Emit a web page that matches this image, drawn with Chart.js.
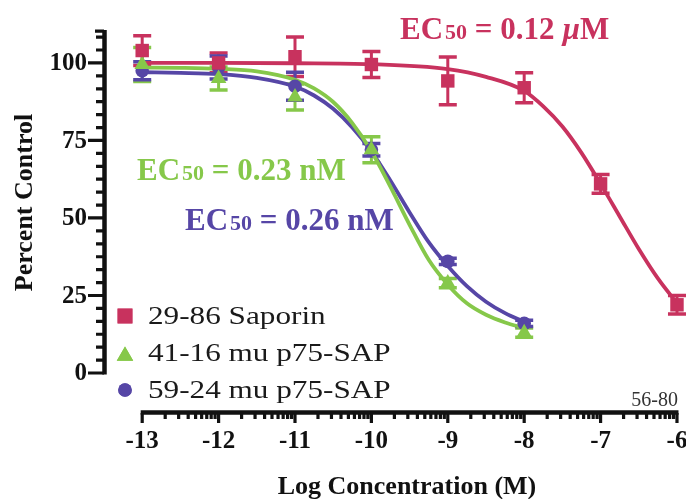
<!DOCTYPE html>
<html>
<head>
<meta charset="utf-8">
<script src="https://cdn.jsdelivr.net/npm/chart.js@4.4.1/dist/chart.umd.min.js"></script>
<style>
  html, body { margin: 0; padding: 0; background: #fff; }
  #wrap { width: 686px; height: 499px; }
</style>
</head>
<body>
<div id="wrap"><canvas id="chart" width="686" height="499"></canvas></div>
<script>
// measured points (mean +/- error), log M
const saporinX    = [-13, -12, -11, -10, -9, -8, -7, -6];
const saporinMean = [104, 100, 102, 99.5, 94.2, 92, 61, 22];
const saporinErr  = [4.8, 3.2, 6.4, 4.2, 7.7, 4.8, 3, 3];

const muX      = [-13, -12, -11, -10, -9, -8];
const mu4116   = [99.5, 95, 89, 72, 29, 13];
const mu4116Er = [5.5, 3.7, 4.2, 4.2, 1.5, 1.5];
const mu5924   = [97.5, 98.5, 92.5, 72, 36, 16];
const mu5924Er = [2.9, 3.7, 4.5, 2, 1, 1];

// fitted curves
const saporinFitX = [-13, -12, -11, -10, -9, -8.5, -8, -7.75, -7.5, -7.25, -7, -6.75, -6.5, -6.25, -6];
const saporinFit  = [100, 100, 99.9, 99.6, 98, 95.5, 91, 86, 79.5, 71, 61, 50.5, 40, 30.5, 22.5];
const muFitX   = [-13, -12.5, -12, -11.5, -11, -10.75, -10.5, -10.25, -10, -9.75, -9.5, -9.25, -9, -8.75, -8.5, -8.25, -8];
const mu4116Fit = [98.5, 98.4, 98.1, 97.3, 94.6, 91.8, 87.4, 80.6, 71.5, 60, 47.8, 36.5, 28.5, 22.5, 18.8, 16.3, 14.5];
const mu5924Fit = [97, 96.8, 96.4, 95.2, 92.4, 89.5, 85.2, 79.2, 71.5, 62, 51.8, 42.2, 34.5, 28, 23, 19.3, 16.5];

const seriesNames = ['29-86 Saporin', '41-16 mu p75-SAP', '59-24 mu p75-SAP'];
const ec50Labels  = ['0.12 ', '0.23 n', '0.26 n'];

const xTicks = [-13, -12, -11, -10, -9, -8, -7, -6];
const yTicks = [0, 25, 50, 75, 100];

const RED = '#C8325E';
const GREEN = '#86C84A';
const BLUE = '#5646A6';
const INK = '#111';
const SERIF = '"Liberation Serif", "Times New Roman", serif';

const pts = (xs, ys) => xs.map((v, i) => ({ x: v, y: ys[i] }));

const errorSets = [
  { xs: saporinX, ys: saporinMean, err: saporinErr, color: RED },
  { xs: muX, ys: mu4116, err: mu4116Er, color: GREEN },
  { xs: muX, ys: mu5924, err: mu5924Er, color: BLUE }
];

const errorBars = {
  id: 'errorBars',
  beforeDatasetsDraw(chart) {
    const { ctx, scales: { x, y } } = chart;
    ctx.save();
    errorSets.forEach(s => {
      ctx.strokeStyle = s.color;
      s.xs.forEach((v, i) => {
        const px = x.getPixelForValue(v);
        const top = y.getPixelForValue(s.ys[i] + s.err[i]);
        const bot = y.getPixelForValue(s.ys[i] - s.err[i]);
        ctx.lineWidth = 3;
        ctx.beginPath();
        ctx.moveTo(px, top); ctx.lineTo(px, bot);
        ctx.stroke();
        ctx.lineWidth = 3.5;
        ctx.beginPath();
        ctx.moveTo(px - 9, top); ctx.lineTo(px + 9, top);
        ctx.moveTo(px - 9, bot); ctx.lineTo(px + 9, bot);
        ctx.stroke();
      });
    });
    ctx.restore();
  }
};

function ecLabel(ctx, x, base, color, value, italicMu) {
  ctx.fillStyle = color;
  ctx.textBaseline = 'alphabetic';
  ctx.textAlign = 'left';
  const parts = [
    ['EC', 'bold 31px ' + SERIF, 2],
    ['50', 'bold 22px ' + SERIF, 0],
    [' = ' + value, 'bold 31px ' + SERIF, 0],
    [italicMu ? '\u00b5' : '', 'italic bold 31px ' + SERIF, 0],
    ['M', 'bold 31px ' + SERIF, 0]
  ];
  let cx = x;
  parts.forEach(([t, f, gap]) => {
    ctx.font = f;
    ctx.fillText(t, cx, base);
    cx += ctx.measureText(t).width + gap;
  });
}

const frame = {
  id: 'frame',
  afterDraw(chart) {
    const { ctx, scales: { x, y } } = chart;
    const ax = x.getPixelForValue(-13.5);
    const ay = y.getPixelForValue(-12.9);
    ctx.save();
    ctx.strokeStyle = INK;
    ctx.lineCap = 'butt';

    // y axis
    const yTop = y.getPixelForValue(110.6);
    ctx.lineWidth = 4.5;
    ctx.beginPath();
    ctx.moveTo(ax + 0.5, y.getPixelForValue(0) + 1.5);
    ctx.lineTo(ax + 0.5, yTop);
    ctx.stroke();
    ctx.lineWidth = 3.2;
    ctx.beginPath();
    yTicks.forEach(v => {
      const p = y.getPixelForValue(v);
      ctx.moveTo(ax, p); ctx.lineTo(ax - 16, p);
    });
    for (let k = 1; k <= 26; k++) {
      if (k % 6 === 0) continue;
      const p = y.getPixelForValue(k * 25 / 6);
      ctx.moveTo(ax, p); ctx.lineTo(ax - 8, p);
    }
    ctx.moveTo(ax, yTop + 1); ctx.lineTo(ax - 9, yTop + 1);
    ctx.stroke();

    // x axis
    const x0 = x.getPixelForValue(xTicks[0]);
    const x1 = x.getPixelForValue(xTicks[xTicks.length - 1]);
    ctx.lineWidth = 4.5;
    ctx.beginPath();
    ctx.moveTo(x0 - 1.5, ay - 0.5); ctx.lineTo(x1 + 1.5, ay - 0.5);
    ctx.stroke();
    ctx.lineWidth = 3.2;
    ctx.beginPath();
    xTicks.forEach(v => {
      const p = x.getPixelForValue(v);
      ctx.moveTo(p, ay); ctx.lineTo(p, ay + 10);
    });
    for (let d = xTicks[0]; d < xTicks[xTicks.length - 1]; d++) {
      for (let k = 2; k <= 9; k++) {
        const p = x.getPixelForValue(d + Math.log10(k));
        ctx.moveTo(p, ay); ctx.lineTo(p, ay + 6);
      }
    }
    ctx.stroke();

    // tick labels
    ctx.fillStyle = INK;
    ctx.font = 'bold 25px ' + SERIF;
    ctx.textAlign = 'right';
    ctx.textBaseline = 'middle';
    yTicks.forEach(v => ctx.fillText(String(v), ax - 17, y.getPixelForValue(v) + 1));
    ctx.textAlign = 'center';
    xTicks.forEach(v => ctx.fillText(String(v), x.getPixelForValue(v), ay + 29));

    // axis titles
    ctx.font = 'bold 26px ' + SERIF;
    ctx.fillText('Log Concentration (M)', 407, 487);
    ctx.save();
    ctx.translate(25, y.getPixelForValue(55));
    ctx.rotate(-Math.PI / 2);
    ctx.fillText('Percent Control', 0, 0);
    ctx.restore();

    // legend
    const styles = ['rect', 'triangle', 'circle'];
    const colors = [RED, GREEN, BLUE];
    const rows = [316, 353, 390];
    seriesNames.forEach((name, i) => {
      const r = i === 0 ? 10.5 : (i === 1 ? 9.5 : 6.8);
      ctx.fillStyle = colors[i];
      Chart.helpers.drawPoint(ctx, { pointStyle: styles[i], radius: r, borderWidth: 0, rotation: 0 }, 125, rows[i] + (i === 1 ? 3 : 0));
      ctx.fill();
      ctx.save();
      ctx.fillStyle = '#1a1a1a';
      ctx.font = '26px ' + SERIF;
      ctx.textAlign = 'left';
      ctx.textBaseline = 'middle';
      ctx.translate(148, rows[i] + 1);
      ctx.scale(1.2, 1);
      ctx.fillText(name, 0, 0);
      ctx.restore();
    });

    // plate id
    ctx.fillStyle = '#333';
    ctx.font = '20px ' + SERIF;
    ctx.textAlign = 'right';
    ctx.textBaseline = 'alphabetic';
    ctx.fillText('56-80', 678, 406);

    // EC50 values
    ecLabel(ctx, 400, 39, RED, ec50Labels[0], true);
    ecLabel(ctx, 137, 180, GREEN, ec50Labels[1], false);
    ecLabel(ctx, 185, 230, BLUE, ec50Labels[2], false);
    ctx.restore();
  }
};

new Chart(document.getElementById('chart'), {
  type: 'line',
  data: {
    datasets: [
      { data: pts(saporinX, saporinMean), showLine: false, pointStyle: 'rect', pointRadius: 9.5, pointBackgroundColor: RED, pointBorderWidth: 0, order: 0 },
      { data: pts(muX, mu4116), showLine: false, pointStyle: 'triangle', pointRadius: 9, pointBackgroundColor: GREEN, pointBorderWidth: 0, order: 0 },
      { data: pts(muX, mu5924), showLine: false, pointStyle: 'circle', pointRadius: 6.8, pointBackgroundColor: BLUE, pointBorderWidth: 0, order: 0 },
      { data: pts(saporinFitX, saporinFit), borderColor: RED, borderWidth: 3.8, pointRadius: 0, cubicInterpolationMode: 'monotone', fill: false, order: 1 },
      { data: pts(muFitX, mu4116Fit), borderColor: GREEN, borderWidth: 3.8, pointRadius: 0, cubicInterpolationMode: 'monotone', fill: false, order: 1 },
      { data: pts(muFitX, mu5924Fit), borderColor: BLUE, borderWidth: 3.8, pointRadius: 0, cubicInterpolationMode: 'monotone', fill: false, order: 1 }
    ]
  },
  options: {
    responsive: false,
    animation: false,
    layout: { autoPadding: false, padding: { left: 104, right: 0, top: 0, bottom: 86 } },
    plugins: { legend: { display: false }, tooltip: { enabled: false } },
    scales: {
      x: { type: 'linear', min: -13.5, max: -5.882, display: false },
      y: { type: 'linear', min: -12.9, max: 120.3, display: false }
    }
  },
  plugins: [errorBars, frame]
});
</script>
</body>
</html>
